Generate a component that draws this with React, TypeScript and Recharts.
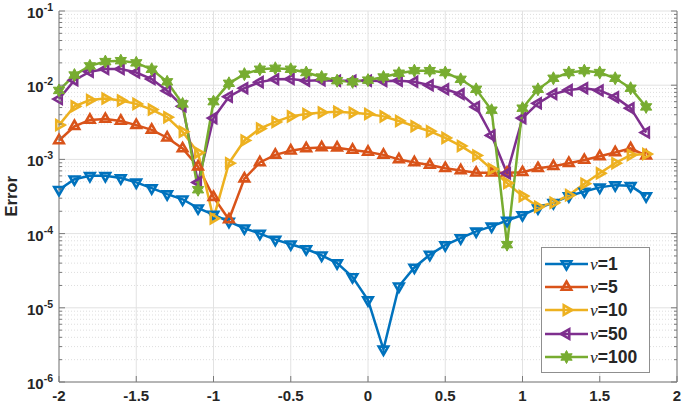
import React from 'react';
import { CartesianGrid, Legend, Line, LineChart, XAxis, YAxis } from 'recharts';

const xs = [
  -2, -1.9, -1.8, -1.7, -1.6, -1.5, -1.4, -1.3, -1.2, -1.1, -1, -0.9, -0.8, -0.7, -0.6, -0.5, -0.4, -0.3, -0.2,
  -0.1, 0, 0.1, 0.2, 0.3, 0.4, 0.5, 0.6, 0.7, 0.8, 0.9, 1, 1.1, 1.2, 1.3, 1.4, 1.5, 1.6, 1.7, 1.8,
];

const nu1 = [
  3.9e-4, 5.4e-4, 6.0e-4, 6.0e-4, 5.6e-4, 4.9e-4, 4.1e-4, 3.4e-4, 2.9e-4, 2.2e-4, 1.8e-4, 1.45e-4, 1.18e-4, 1.0e-4,
  8.3e-5, 7.2e-5, 6.2e-5, 5.1e-5, 4.0e-5, 2.6e-5, 1.27e-5, 2.75e-6, 1.95e-5, 3.5e-5, 5.2e-5, 7.0e-5, 8.7e-5,
  1.07e-4, 1.25e-4, 1.5e-4, 1.78e-4, 2.2e-4, 2.6e-4, 3.2e-4, 3.7e-4, 4.2e-4, 4.5e-4, 4.4e-4, 3.2e-4,
];
const nu5 = [
  1.8e-3, 2.8e-3, 3.4e-3, 3.5e-3, 3.3e-3, 2.9e-3, 2.5e-3, 1.96e-3, 1.4e-3, 8.0e-4, 3.1e-4, 1.55e-4, 5.5e-4, 9.1e-4,
  1.15e-3, 1.31e-3, 1.41e-3, 1.45e-3, 1.44e-3, 1.34e-3, 1.26e-3, 1.15e-3, 1.0e-3, 9.1e-4, 8.4e-4, 7.6e-4, 7.1e-4,
  6.6e-4, 6.6e-4, 6.6e-4, 6.7e-4, 7.6e-4, 8.1e-4, 8.9e-4, 9.8e-4, 1.1e-3, 1.24e-3, 1.41e-3, 1.12e-3,
];
const nu10 = [
  2.9e-3, 5.2e-3, 6.3e-3, 6.6e-3, 6.2e-3, 5.6e-3, 4.7e-3, 3.7e-3, 2.36e-3, 1.23e-3, 1.6e-4, 8.9e-4, 1.8e-3, 2.6e-3,
  3.2e-3, 3.8e-3, 4.1e-3, 4.3e-3, 4.4e-3, 4.26e-3, 4.1e-3, 3.8e-3, 3.3e-3, 2.8e-3, 2.4e-3, 1.95e-3, 1.52e-3,
  1.13e-3, 7.4e-4, 4.8e-4, 3.2e-4, 2.3e-4, 2.6e-4, 3.3e-4, 4.7e-4, 6.5e-4, 8.9e-4, 1.15e-3, 1.18e-3,
];
const nu50 = [
  6.5e-3, 1.17e-2, 1.52e-2, 1.65e-2, 1.65e-2, 1.48e-2, 1.21e-2, 8.4e-3, 5.2e-3, 4.9e-4, 3.6e-3, 7.0e-3, 9.1e-3, 1.1e-2,
  1.2e-2, 1.21e-2, 1.15e-2, 1.17e-2, 1.15e-2, 1.15e-2, 1.15e-2, 1.14e-2, 1.15e-2, 1.11e-2, 1.0e-2, 8.8e-3, 7.6e-3,
  5.1e-3, 2.1e-3, 6.5e-4, 3.6e-3, 5.7e-3, 7.6e-3, 8.6e-3, 9.1e-3, 8.5e-3, 6.9e-3, 4.9e-3, 2.3e-3,
];
const nu100 = [
  8.5e-3, 1.37e-2, 1.82e-2, 2.08e-2, 2.14e-2, 2.0e-2, 1.64e-2, 1.11e-2, 5.6e-3, 3.9e-4, 6.0e-3, 1.06e-2, 1.41e-2,
  1.64e-2, 1.69e-2, 1.64e-2, 1.48e-2, 1.29e-2, 1.15e-2, 1.11e-2, 1.17e-2, 1.29e-2, 1.45e-2, 1.57e-2, 1.57e-2,
  1.48e-2, 1.2e-2, 8.8e-3, 4.6e-3, 7.1e-5, 4.9e-3, 8.8e-3, 1.24e-2, 1.48e-2, 1.57e-2, 1.48e-2, 1.24e-2, 9.1e-3,
  5.1e-3,
];

const xTicks = [-2, -1.5, -1, -0.5, 0, 0.5, 1, 1.5, 2];
const decades = [-6, -5, -4, -3, -2, -1];

const majorY = decades.map((e) => Math.pow(10, e));
const minorY: number[] = [];
decades.slice(0, -1).forEach((e) => {
  for (let m = 2; m <= 9; m++) minorY.push(m * Math.pow(10, e));
});
const allY = [...majorY, ...minorY].sort((a, b) => a - b);

type Shape = 'down' | 'up' | 'right' | 'left' | 'star';

const series: { key: string; label: string; color: string; shape: Shape; values: number[] }[] = [
  { key: 'nu1', label: '1', color: '#0072BD', shape: 'down', values: nu1 },
  { key: 'nu5', label: '5', color: '#D95319', shape: 'up', values: nu5 },
  { key: 'nu10', label: '10', color: '#EDB120', shape: 'right', values: nu10 },
  { key: 'nu50', label: '50', color: '#7E2F8E', shape: 'left', values: nu50 },
  { key: 'nu100', label: '100', color: '#77AC30', shape: 'star', values: nu100 },
];

const data = xs.map((x, i) => {
  const row: Record<string, number> = { x };
  series.forEach((s) => {
    row[s.key] = s.values[i];
  });
  return row;
});

const TEXT = '#262626';
const AXIS = '#7a7a7a';
const FONT = '"Liberation Sans", Arial, sans-serif';

const markerPath = (shape: Shape, cx: number, cy: number) => {
  const r = 5.5;
  const pts: [number, number][] = [];
  if (shape === 'star') {
    for (let k = 0; k < 12; k++) {
      const a = (Math.PI / 6) * k - Math.PI / 2;
      const rr = k % 2 === 0 ? 6.5 : 3.6;
      pts.push([cx + rr * Math.cos(a), cy + rr * Math.sin(a)]);
    }
  } else {
    const base = { up: -90, down: 90, right: 0, left: 180 }[shape];
    for (let k = 0; k < 3; k++) {
      const a = ((base + k * 120) * Math.PI) / 180;
      pts.push([cx + r * Math.cos(a), cy + r * Math.sin(a)]);
    }
  }
  return 'M' + pts.map((p) => `${p[0].toFixed(2)},${p[1].toFixed(2)}`).join('L') + 'Z';
};

const Marker = ({ shape, color, cx, cy }: { shape: Shape; color: string; cx: number; cy: number }) =>
  shape === 'star' ? (
    <path d={markerPath(shape, cx, cy)} fill={color} stroke={color} strokeWidth={1} />
  ) : (
    <path d={markerPath(shape, cx, cy)} fill="none" stroke={color} strokeWidth={2.6} strokeLinejoin="miter" />
  );

const isMajor = (v: number) => Math.abs(Math.log10(v) - Math.round(Math.log10(v))) < 1e-9;

const LeftTick = (props: any) => {
  const { x, y, payload } = props;
  const v = payload.value as number;
  const major = isMajor(v);
  return (
    <g>
      <line x1={x} x2={x + (major ? 6 : 3)} y1={y} y2={y} stroke={AXIS} />
      {major && (
        <text x={x - 6} y={y + 7} textAnchor="end" fill={TEXT} fontFamily={FONT} fontWeight="bold" fontSize={15}>
          <tspan>10</tspan>
          <tspan dy={-7} fontSize={10.5}>
            {Math.round(Math.log10(v))}
          </tspan>
        </text>
      )}
    </g>
  );
};

const RightTick = (props: any) => {
  const { x, y, payload } = props;
  const major = isMajor(payload.value);
  return <line x1={x} x2={x - (major ? 6 : 3)} y1={y} y2={y} stroke={AXIS} />;
};

const BottomTick = (props: any) => {
  const { x, y, payload } = props;
  return (
    <g>
      <line x1={x} x2={x} y1={y} y2={y - 6} stroke={AXIS} />
      <text x={x} y={y + 19} textAnchor="middle" fill={TEXT} fontFamily={FONT} fontWeight="bold" fontSize={15}>
        {payload.value}
      </text>
    </g>
  );
};

const TopTick = (props: any) => {
  const { x, y } = props;
  return <line x1={x} x2={x} y1={y} y2={y + 6} stroke={AXIS} />;
};

const renderLegend = () => (
  <div
    style={{
      border: '1px solid #8f8f8f',
      background: '#fff',
      width: 109,
      padding: '4px 0 4px 0',
      boxSizing: 'border-box',
    }}
  >
    {series.map((s) => (
      <div key={s.key} style={{ display: 'flex', alignItems: 'center', height: 23.3 }}>
        <svg width={47} height={20} style={{ marginLeft: 1 }}>
          <line x1={2} x2={45} y1={10} y2={10} stroke={s.color} strokeWidth={2.5} />
          <Marker shape={s.shape} color={s.color} cx={23.5} cy={10} />
        </svg>
        <span style={{ fontSize: 17.5, color: TEXT, lineHeight: '20px', whiteSpace: 'nowrap' }}>
          <span style={{ fontFamily: '"Liberation Serif", serif', fontStyle: 'italic' }}>ν</span>
          <span style={{ fontFamily: FONT, fontWeight: 'bold' }}>={s.label}</span>
        </span>
      </div>
    ))}
  </div>
);

export default function App() {
  return (
    <div style={{ position: 'absolute', left: 0, top: 0, background: '#fff' }}>
      <LineChart width={685} height={405} data={data} margin={{ top: 11, right: 0, bottom: 0, left: 0 }}>
        <CartesianGrid horizontalValues={minorY} vertical={false} stroke="#dedede" strokeDasharray="1 2" />
        <CartesianGrid horizontalValues={majorY} verticalValues={xTicks} stroke="#e2e2e2" />
        <XAxis
          dataKey="x"
          type="number"
          domain={[-2, 2]}
          ticks={xTicks}
          height={23}
          tickSize={0}
          tickMargin={0}
          tickLine={false}
          tick={<BottomTick />}
          axisLine={{ stroke: AXIS }}
          interval={0}
        />
        <XAxis
          xAxisId="top"
          orientation="top"
          dataKey="x"
          type="number"
          domain={[-2, 2]}
          ticks={xTicks}
          height={0}
          tickSize={0}
          tickMargin={0}
          tickLine={false}
          tick={<TopTick />}
          axisLine={{ stroke: AXIS }}
          interval={0}
        />
        <YAxis
          type="number"
          scale="log"
          domain={[1e-6, 1e-1]}
          allowDataOverflow
          ticks={allY}
          width={59}
          tickSize={0}
          tickMargin={0}
          tickLine={false}
          tick={<LeftTick />}
          axisLine={{ stroke: AXIS }}
          interval={0}
          label={{
            value: 'Error',
            angle: -90,
            position: 'insideLeft',
            dx: 6,
            dy: 20,
            style: { fill: TEXT, fontFamily: FONT, fontWeight: 'bold', fontSize: 16.5 },
          }}
        />
        <YAxis
          yAxisId="right"
          orientation="right"
          type="number"
          scale="log"
          domain={[1e-6, 1e-1]}
          allowDataOverflow
          ticks={allY}
          width={8}
          tickSize={0}
          tickMargin={0}
          tickLine={false}
          tick={<RightTick />}
          axisLine={{ stroke: AXIS }}
          interval={0}
        />
        {series.map((s) => (
          <Line
            key={s.key}
            dataKey={s.key}
            stroke={s.color}
            strokeWidth={2.5}
            isAnimationActive={false}
            dot={(p: any) => <Marker key={`${s.key}-${p.index}`} shape={s.shape} color={s.color} cx={p.cx} cy={p.cy} />}
            activeDot={false}
          />
        ))}
        <Legend
          layout="horizontal"
          verticalAlign="middle"
          align="center"
          content={renderLegend}
          wrapperStyle={{ left: 541, top: 247, width: 'auto', height: 'auto' }}
        />
      </LineChart>
    </div>
  );
}
